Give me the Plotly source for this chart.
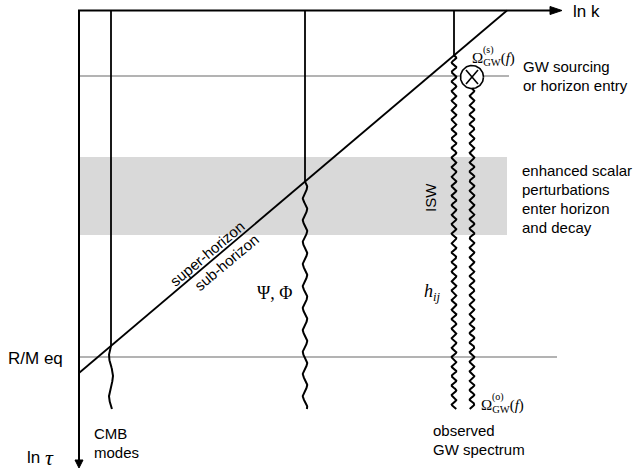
import numpy as np
import plotly.graph_objects as go

# Schematic coordinates: ln k grows to the right, ln tau grows downward.
LNK0, LNTAU0 = 79, 10.5          # corner where the two axes meet
LNK_TIP, LNTAU_TIP = 562, 468    # arrow tips of the axes

# horizon-crossing line (k = aH), from the ln tau axis up to the ln k axis
horizon_lnk = [79, 507]
horizon_lntau = [373, 10.5]

# epochs drawn as horizontal reference lines
epoch_names = ["GW sourcing", "R/M eq"]
epoch_lntau = [76, 357]
epoch_lnk_end = [509, 557]

# era in which enhanced scalar perturbations enter the horizon and decay
band_lntau = [157, 235]
band_lnk_end = 507

# tracked modes
mode_names = ["CMB", "Psi_Phi", "h_ij", "Omega_GW_sourced"]
mode_lnk = [111, 305, 454, 472]
wave_period = [40, 22, 9.5, 9.5]
wave_amp = [2.0, 2.2, 2.3, 2.3]
mode_end_lntau = 409

# GW source vertex
source_lnk, source_lntau, source_r = 472, 77, 11.5

BLACK = "#000000"
GREY = "#9a9a9a"
BAND = "#d9d9d9"
SANS = "Liberation Sans, Arial, sans-serif"
SERIF = "Liberation Serif, Times New Roman, serif"

fig = go.Figure()

# shaded band
fig.add_trace(go.Scatter(
    x=[LNK0, band_lnk_end, band_lnk_end, LNK0, LNK0],
    y=[band_lntau[0], band_lntau[0], band_lntau[1], band_lntau[1], band_lntau[0]],
    fill="toself", fillcolor=BAND, line=dict(width=0), mode="lines",
    hoverinfo="skip"))

# epoch lines
for t, kend in zip(epoch_lntau, epoch_lnk_end):
    fig.add_trace(go.Scatter(x=[LNK0, kend], y=[t, t], mode="lines",
                             line=dict(color=GREY, width=1.6), hoverinfo="skip"))

# axes
fig.add_trace(go.Scatter(x=[LNK0 - 1, LNK_TIP - 10], y=[LNTAU0, LNTAU0], mode="lines",
                         line=dict(color=BLACK, width=2), hoverinfo="skip"))
fig.add_trace(go.Scatter(x=[LNK0, LNK0], y=[LNTAU0, LNTAU_TIP - 7], mode="lines",
                         line=dict(color=BLACK, width=2), hoverinfo="skip"))
fig.add_trace(go.Scatter(x=[LNK_TIP - 12, LNK_TIP, LNK_TIP - 12, LNK_TIP - 12],
                         y=[LNTAU0 - 4, LNTAU0, LNTAU0 + 4, LNTAU0 - 4],
                         fill="toself", fillcolor=BLACK, mode="lines",
                         line=dict(color=BLACK, width=1), hoverinfo="skip"))
fig.add_trace(go.Scatter(x=[LNK0 - 4, LNK0, LNK0 + 4, LNK0 - 4],
                         y=[LNTAU_TIP - 8, LNTAU_TIP, LNTAU_TIP - 8, LNTAU_TIP - 8],
                         fill="toself", fillcolor=BLACK, mode="lines",
                         line=dict(color=BLACK, width=1), hoverinfo="skip"))

# horizon-crossing line
fig.add_trace(go.Scatter(x=horizon_lnk, y=horizon_lntau, mode="lines",
                         line=dict(color=BLACK, width=1.8), hoverinfo="skip"))

# modes: frozen (straight) outside the horizon, oscillating once inside
for i, k in enumerate(mode_lnk):
    if i < 3:
        t_cross = float(np.interp(k, horizon_lnk, horizon_lntau))
        fig.add_trace(go.Scatter(x=[k, k], y=[LNTAU0, t_cross], mode="lines",
                                 line=dict(color=BLACK, width=1.8), hoverinfo="skip"))
    else:
        t_cross = source_lntau + source_r
    tt = np.linspace(t_cross, mode_end_lntau, 400)
    sign = -1 if i == 0 else 1
    xx = k + sign * wave_amp[i] * np.sin(2 * np.pi * (tt - t_cross) / wave_period[i])
    fig.add_trace(go.Scatter(x=xx, y=tt, mode="lines",
                             line=dict(color=BLACK, width=2), hoverinfo="skip"))

# source vertex: circle with a cross
th = np.linspace(0, 2 * np.pi, 120)
fig.add_trace(go.Scatter(x=source_lnk + source_r * np.cos(th),
                         y=source_lntau + source_r * np.sin(th), mode="lines",
                         fill="toself", fillcolor="white",
                         line=dict(color=BLACK, width=1.6), hoverinfo="skip"))
fig.add_trace(go.Scatter(x=[source_lnk - 6, source_lnk + 6, None, source_lnk - 6, source_lnk + 6],
                         y=[source_lntau - 7, source_lntau + 7, None, source_lntau + 7, source_lntau - 7],
                         mode="lines", line=dict(color=BLACK, width=1.6), hoverinfo="skip"))

ann = []


def label(x, y, text, size=15, family=SANS, xanchor="left", angle=0, color=BLACK):
    ann.append(dict(x=x, y=y, xref="x", yref="y", text=text, showarrow=False,
                    xanchor=xanchor, yanchor="middle", textangle=angle,
                    font=dict(family=family, size=size, color=color)))


label(571, 11, "ln k", 17)
label(521, 66, "GW sourcing")
label(521, 85, "or horizon entry")
label(520, 170, "enhanced scalar")
label(520, 189, "perturbations")
label(520, 208, "enter horizon")
label(520, 227, "and decay")
label(430, 198, "ISW", xanchor="center", angle=-90)
label(207, 253, "super-horizon", xanchor="center", angle=-40)
label(226, 262, "sub-horizon", xanchor="center", angle=-40)
label(274, 293, "Ψ, Φ", 18, family=SERIF, xanchor="center")
label(432, 292, "<i>h</i><sub><i>ij</i></sub>", 18, family=SERIF, xanchor="center")
label(6, 358, "R/M eq", 17)
label(92, 433, "CMB")
label(92, 452, "modes")
label(25, 457, "ln", 17)
label(43, 457, "<i>τ</i>", 22, family=SERIF)
label(431, 430, "observed")
label(431, 449, "GW spectrum")
label(470, 59, "Ω<sub>GW</sub>(<i>f</i>)", 15, family=SERIF)
label(481, 50, "(s)", 10, family=SERIF)
label(479, 406, "Ω<sub>GW</sub>(<i>f</i>)", 15, family=SERIF)
label(490, 397, "(o)", 10, family=SERIF)

fig.update_layout(
    width=635, height=470, margin=dict(l=0, r=0, t=0, b=0),
    paper_bgcolor="white", plot_bgcolor="white", showlegend=False,
    annotations=ann,
    xaxis=dict(range=[0, 635], visible=False, fixedrange=True),
    yaxis=dict(range=[470, 0], visible=False, fixedrange=True),
)

fig.write_html("out.html")
